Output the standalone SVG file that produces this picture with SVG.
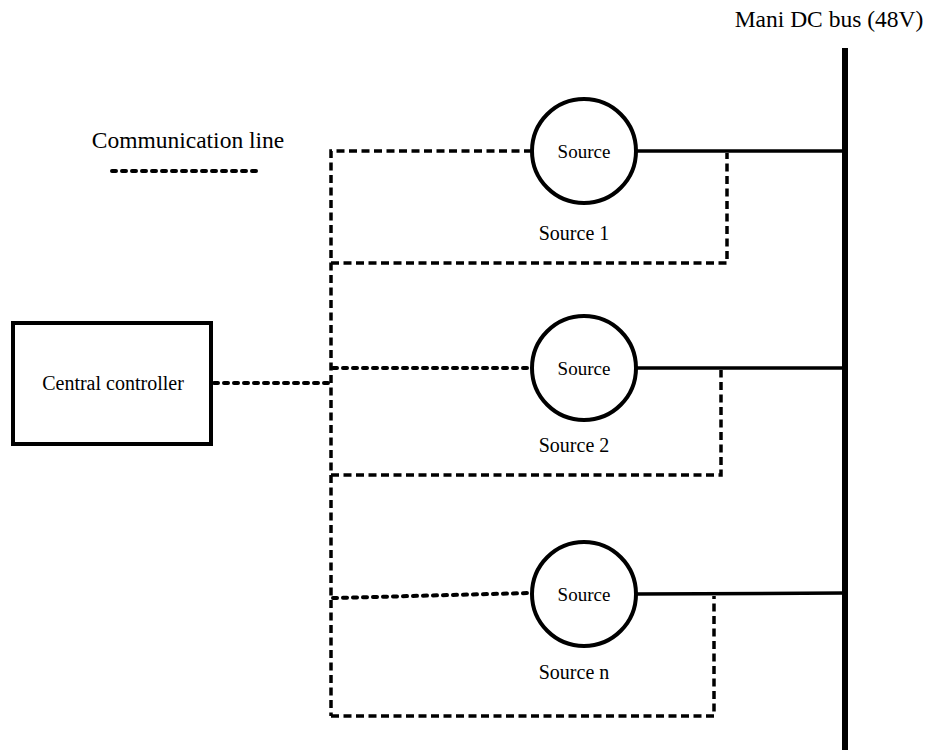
<svg xmlns="http://www.w3.org/2000/svg" width="925" height="750" viewBox="0 0 925 750">
<style>
text{font-family:"Liberation Serif","Times New Roman",serif;fill:#000}
.ts{font-size:19px}
.tl{font-size:20px}
.tc{font-size:20px}
.t23{font-size:23.5px}
.dash{fill:none;stroke:#000;stroke-width:3.5;stroke-dasharray:8 4.5}
.dot{fill:none;stroke:#000;stroke-width:4;stroke-dasharray:4 6;stroke-linecap:round}
.solid{fill:none;stroke:#000;stroke-width:3.5}
.node{fill:#fff;stroke:#000;stroke-width:4}
</style>
<rect width="925" height="750" fill="#fff"/>
<g id="connectors">
<line class="solid" x1="845" y1="48" x2="845" y2="750" style="stroke-width:6"/>
<line class="solid" x1="636" y1="151" x2="845" y2="151"/>
<line class="solid" x1="636" y1="368" x2="845" y2="368"/>
<line class="solid" x1="636" y1="594" x2="845" y2="593"/>
<polyline class="dash" points="532,151 331,151 331,716"/>
<polyline class="dash" points="331,263 727,263 727,153"/>
<polyline class="dash" points="331,475 721,475 721,370"/>
<polyline class="dash" points="331,716 714,716 714,596"/>
<line class="dot" x1="333" y1="368" x2="530" y2="368"/>
<line class="dot" x1="333" y1="598" x2="530" y2="593"/>
<line class="dot" x1="214" y1="383" x2="328" y2="383"/>
<line class="dot" x1="112" y1="171" x2="262" y2="171"/>
</g>
<g id="legend">
<text class="t23" x="188" y="148" text-anchor="middle">Communication line</text>
</g>
<g id="bus-label">
<text class="t23" x="829" y="27" text-anchor="middle">Mani DC bus (48V)</text>
</g>
<g id="controller">
<rect class="node" x="13" y="323" width="198" height="121"/>
<text class="tc" x="113" y="390" text-anchor="middle">Central controller</text>
</g>
<g id="source1">
<circle class="node" cx="584" cy="151" r="52"/>
<text class="ts" x="584" y="158" text-anchor="middle">Source</text>
<text class="tl" x="574" y="240" text-anchor="middle">Source 1</text>
</g>
<g id="source2">
<circle class="node" cx="584" cy="368" r="52"/>
<text class="ts" x="584" y="375" text-anchor="middle">Source</text>
<text class="tl" x="574" y="452" text-anchor="middle">Source 2</text>
</g>
<g id="sourcen">
<circle class="node" cx="584" cy="594" r="52"/>
<text class="ts" x="584" y="601" text-anchor="middle">Source</text>
<text class="tl" x="574" y="679" text-anchor="middle">Source n</text>
</g>
</svg>
